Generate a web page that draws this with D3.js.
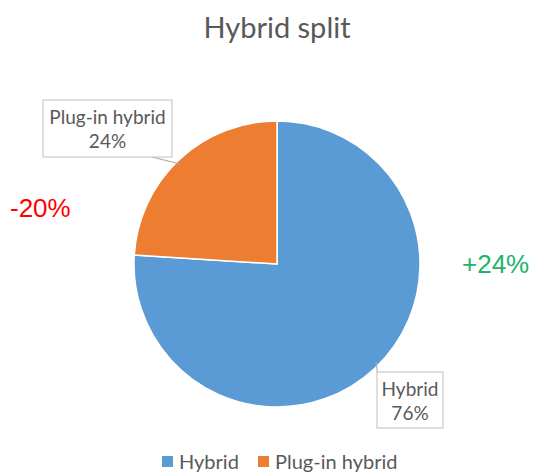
<!DOCTYPE html>
<html><head><meta charset="utf-8">
<script src="https://cdn.jsdelivr.net/npm/d3@7/dist/d3.min.js"></script>
<style>body{margin:0;background:#fff}</style>
</head><body>
<svg id="c" width="533" height="475"></svg>
<script>
const categories = ["Hybrid", "Plug-in hybrid"];
const values = [76, 24];
const labels = ["76%", "24%"];
const colors = ["#5b9bd5", "#ed7d31"];
const title = "Hybrid split";
const changes = ["-20%", "+24%"];
const changeColors = ["#ff0000", "#1db36a"];

const svg = d3.select("#c");
const cx = 277, cy = 264, r = 143;
const font = "Lato, 'Open Sans', sans-serif";

svg.append("text").attr("x", 277).attr("y", 38).attr("text-anchor", "middle")
  .attr("font-family", font).attr("font-size", 29).attr("fill", "#595959").text(title);

const pie = d3.pie().sort(null).value(d => d)(values);
const arc = d3.arc().innerRadius(0).outerRadius(r);
const g = svg.append("g").attr("transform", `translate(${cx},${cy})`);
g.selectAll("path").data(pie).join("path").attr("d", arc)
  .attr("fill", (d, i) => colors[i]).attr("stroke", "#fff").attr("stroke-width", 1.5);

// label boxes
const boxes = [
  {x: 377, y: 372, w: 66, h: 56, lx: 376, ly: 362, ax: 380, ay: 392},
  {x: 43, y: 100, w: 129, h: 57, lx: 180, ly: 164, ax: 152, ay: 157}
];
boxes.forEach((b, i) => {
  svg.append("line").attr("x1", b.ax).attr("y1", b.ay).attr("x2", b.lx).attr("y2", b.ly)
    .attr("stroke", "#a6a6a6").attr("stroke-width", 1);
  svg.append("rect").attr("x", b.x).attr("y", b.y).attr("width", b.w).attr("height", b.h)
    .attr("fill", "#fff").attr("stroke", "#bfbfbf").attr("stroke-width", 1);
  svg.append("text").attr("x", b.x + b.w / 2).attr("y", b.y + 24).attr("text-anchor", "middle")
    .attr("font-family", font).attr("font-size", 19).attr("fill", "#595959").text(categories[i]);
  svg.append("text").attr("x", b.x + b.w / 2).attr("y", b.y + 48).attr("text-anchor", "middle")
    .attr("font-family", font).attr("font-size", 19).attr("fill", "#595959").text(labels[i]);
});

// change annotations
svg.append("text").attr("x", 10).attr("y", 217).attr("font-family", "'Liberation Sans', Arial, sans-serif")
  .attr("font-size", 26).attr("fill", changeColors[0]).text(changes[0]);
svg.append("text").attr("x", 462).attr("y", 273).attr("font-family", "'Liberation Sans', Arial, sans-serif")
  .attr("font-size", 26).attr("fill", changeColors[1]).text(changes[1]);

// legend
const leg = [{x: 162, i: 0}, {x: 258, i: 1}];
leg.forEach(l => {
  svg.append("rect").attr("x", l.x).attr("y", 456).attr("width", 11).attr("height", 11).attr("fill", colors[l.i]);
  svg.append("text").attr("x", l.x + 17).attr("y", 469).attr("font-family", font)
    .attr("font-size", 20).attr("fill", "#595959").text(categories[l.i]);
});
</script>
</body></html>
